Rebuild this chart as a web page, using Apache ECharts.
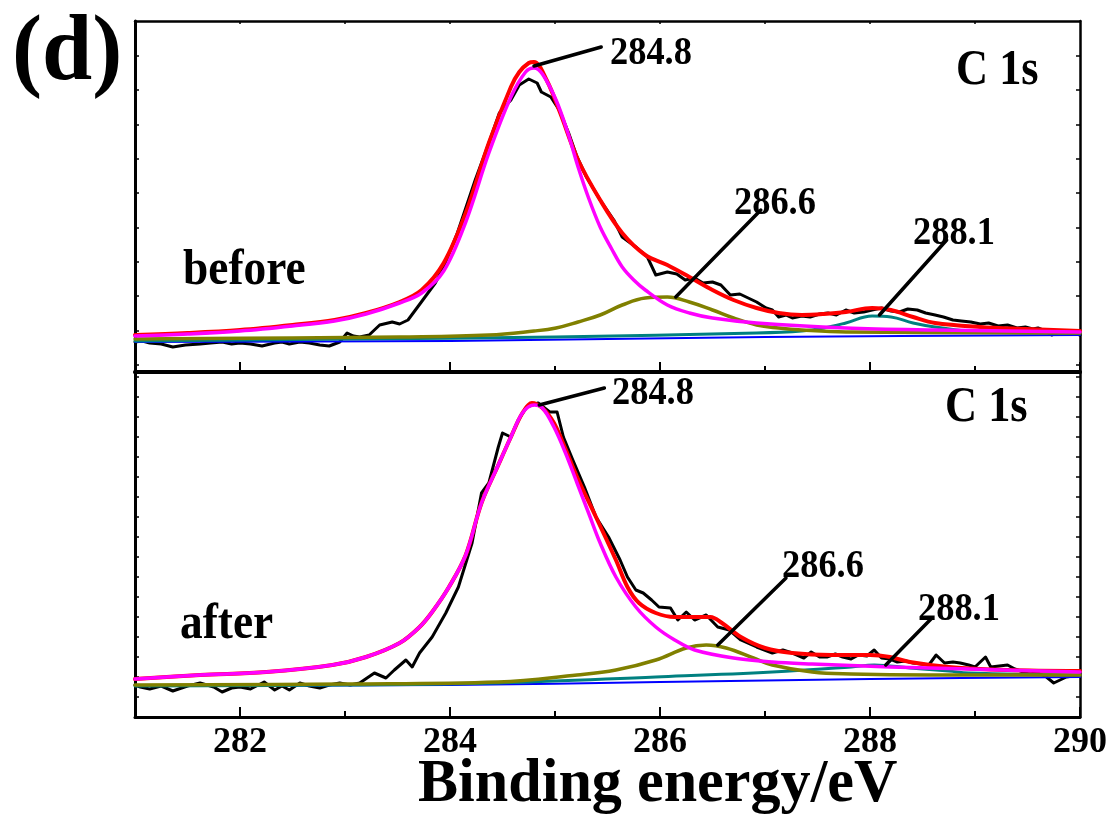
<!DOCTYPE html>
<html>
<head>
<meta charset="utf-8">
<title>C 1s XPS spectra</title>
<script src="https://cdn.jsdelivr.net/npm/echarts@6/dist/echarts.min.js"></script>
<style>
  html, body { margin: 0; padding: 0; background: #fff; }
  #chart { width: 1112px; height: 826px; }
</style>
</head>
<body>
<div id="chart"></div>
<script>
// ---- axis ticks ----
const xMajorTicks = [282, 284, 286, 288, 290];
const xMinorTicks = [283, 285, 287, 289];
const xAllTicks = [282, 283, 284, 285, 286, 287, 288, 289];
const yTicksBefore = [7, 41, 76, 110, 144, 179, 213, 247, 282, 316];
const yTicksAfter = [20, 40, 60, 80, 100, 120, 140, 160, 180, 200, 220, 240, 260, 280, 300, 320, 340];

// ---- "before" spectrum: [binding energy (eV), intensity (a.u.)] ----
const beforeRaw = [
  [281.00, 30], [281.07, 31], [281.14, 29], [281.25, 28], [281.36, 25], [281.48, 27], [281.62, 28],
  [281.72, 29], [281.83, 30], [281.92, 28], [282.00, 29], [282.10, 28], [282.21, 26], [282.33, 29],
  [282.40, 30], [282.47, 28], [282.57, 30], [282.66, 29], [282.76, 27], [282.85, 26], [282.95, 30],
  [283.02, 39], [283.08, 36], [283.14, 35], [283.23, 37], [283.33, 47], [283.45, 50], [283.52, 48],
  [283.60, 52], [283.72, 69], [283.86, 89], [283.94, 105], [284.07, 139], [284.24, 192], [284.37, 229],
  [284.47, 259], [284.58, 272], [284.66, 287], [284.75, 293], [284.83, 289], [284.87, 280], [284.96, 275],
  [285.04, 262], [285.13, 239], [285.21, 215], [285.30, 195], [285.43, 172], [285.56, 152], [285.64, 135],
  [285.77, 125], [285.88, 115], [285.96, 97], [286.07, 100], [286.16, 98], [286.24, 92], [286.33, 94],
  [286.41, 89], [286.50, 90], [286.58, 87], [286.67, 77], [286.76, 78], [286.84, 74], [286.92, 70],
  [287.01, 64], [287.07, 62], [287.13, 55], [287.20, 57], [287.26, 54], [287.35, 56], [287.43, 55],
  [287.52, 58], [287.60, 59], [287.68, 57], [287.77, 62], [287.85, 59], [287.94, 60], [288.02, 62],
  [288.11, 64], [288.20, 61], [288.28, 60], [288.36, 63], [288.45, 62], [288.53, 59], [288.62, 57],
  [288.70, 55], [288.79, 52], [288.87, 51], [288.96, 50], [289.05, 48], [289.13, 49], [289.22, 46],
  [289.31, 47], [289.40, 44], [289.48, 45], [289.55, 43], [289.60, 44], [289.67, 41], [289.73, 37],
  [289.80, 40], [289.90, 40], [290.00, 37]
];
const beforeFit = [
  [281.00, 37], [281.50, 39], [282.00, 42], [282.50, 47], [282.90, 52], [283.20, 59], [283.52, 70],
  [283.73, 82], [283.94, 109], [284.15, 159], [284.37, 229], [284.58, 285], [284.66, 300], [284.75, 309],
  [284.80, 310], [284.92, 292], [285.05, 259], [285.22, 212], [285.43, 172], [285.64, 139], [285.86, 117],
  [286.07, 107], [286.28, 95], [286.50, 82], [286.70, 72], [286.92, 64], [287.13, 59], [287.35, 57],
  [287.56, 58], [287.77, 60], [288.02, 64], [288.20, 62], [288.41, 55], [288.62, 49], [289.05, 45],
  [289.48, 43], [290.00, 41]
];
const beforeCC = [
  [281.00, 36], [281.50, 38], [282.00, 41], [282.50, 46], [282.90, 51], [283.20, 58], [283.52, 69],
  [283.73, 79], [283.94, 101], [284.15, 150], [284.37, 219], [284.58, 275], [284.72, 300], [284.80, 304],
  [284.88, 298], [285.01, 272], [285.12, 240], [285.22, 205], [285.32, 174], [285.43, 145], [285.54, 123],
  [285.64, 105], [285.75, 92], [285.86, 82], [286.07, 67], [286.28, 59], [286.50, 54], [286.92, 49],
  [287.77, 44], [288.62, 42], [290.00, 40]
];
const beforeCO = [
  [281.00, 33], [282.50, 34], [283.52, 35], [284.37, 37], [284.80, 41], [285.01, 44], [285.22, 50],
  [285.43, 57], [285.64, 67], [285.86, 74], [286.07, 75], [286.28, 70], [286.50, 62], [286.70, 54],
  [286.92, 47], [287.13, 44], [287.35, 42], [287.77, 40], [290.00, 39]
];
const beforeOCO = [
  [281.00, 31], [283.00, 33], [285.00, 35], [286.92, 39], [287.35, 41], [287.56, 44], [287.77, 49],
  [288.02, 56], [288.20, 55], [288.41, 49], [288.62, 45], [289.05, 40], [290.00, 39]
];
const beforeBg = [[281.00, 30], [284.00, 31], [285.50, 33], [287.00, 35], [290.00, 37]];

// ---- "after" spectrum ----
const afterRaw = [
  [281.00, 32], [281.05, 30], [281.14, 28], [281.25, 31], [281.36, 26], [281.50, 31], [281.62, 34],
  [281.75, 30], [281.83, 25], [281.92, 29], [282.00, 30], [282.10, 28], [282.23, 35], [282.33, 27],
  [282.40, 31], [282.47, 27], [282.57, 34], [282.66, 31], [282.76, 29], [282.85, 32], [282.95, 34],
  [283.05, 32], [283.14, 34], [283.28, 44], [283.39, 39], [283.47, 47], [283.58, 57], [283.64, 50],
  [283.71, 64], [283.83, 80], [283.96, 104], [284.08, 130], [284.21, 174], [284.30, 224], [284.37, 234],
  [284.46, 270], [284.50, 284], [284.58, 280], [284.65, 297], [284.73, 310], [284.84, 314], [284.95, 305],
  [285.02, 305], [285.08, 280], [285.17, 257], [285.28, 230], [285.39, 200], [285.51, 180], [285.62, 157],
  [285.69, 140], [285.77, 127], [285.84, 124], [285.92, 117], [285.99, 110], [286.10, 109], [286.17, 97],
  [286.25, 105], [286.33, 97], [286.44, 102], [286.55, 90], [286.66, 87], [286.77, 77], [286.92, 70],
  [287.07, 64], [287.17, 67], [287.26, 64], [287.37, 59], [287.44, 65], [287.52, 60], [287.59, 60],
  [287.67, 63], [287.74, 60], [287.82, 58], [287.89, 62], [287.97, 61], [288.04, 67], [288.11, 59],
  [288.19, 58], [288.26, 55], [288.34, 56], [288.41, 54], [288.49, 53], [288.56, 52], [288.63, 62],
  [288.71, 54], [288.79, 55], [288.86, 54], [288.94, 52], [289.00, 50], [289.10, 60], [289.15, 50],
  [289.23, 51], [289.31, 52], [289.38, 48], [289.46, 45], [289.53, 46], [289.60, 44], [289.68, 40],
  [289.75, 34], [289.87, 40], [290.00, 42]
];
const afterFit = [
  [281.00, 38], [281.62, 42], [282.25, 45], [282.88, 52], [283.20, 60], [283.52, 74], [283.71, 90],
  [283.83, 105], [283.99, 130], [284.15, 162], [284.30, 214], [284.46, 252], [284.58, 280], [284.69, 304],
  [284.78, 314], [284.88, 309], [284.99, 294], [285.10, 268], [285.21, 240], [285.39, 200], [285.58, 157],
  [285.69, 130], [285.80, 114], [285.96, 104], [286.14, 100], [286.33, 100], [286.48, 100], [286.59, 94],
  [286.77, 80], [287.00, 69], [287.26, 64], [287.63, 62], [288.00, 62], [288.19, 60], [288.38, 55],
  [288.75, 50], [289.31, 47], [290.00, 46]
];
const afterCC = [
  [281.00, 38], [281.62, 42], [282.25, 45], [282.88, 52], [283.20, 60], [283.52, 74], [283.71, 90],
  [283.83, 105], [283.99, 130], [284.15, 162], [284.30, 214], [284.46, 252], [284.58, 280], [284.69, 304],
  [284.80, 312], [284.88, 309], [284.99, 290], [285.10, 264], [285.21, 234], [285.32, 204], [285.43, 174],
  [285.58, 140], [285.77, 110], [285.96, 90], [286.14, 77], [286.33, 67], [286.70, 59], [287.07, 55],
  [287.45, 53], [288.19, 50], [288.94, 48], [290.00, 45]
];
const afterCO = [
  [281.00, 32], [283.00, 33], [284.46, 35], [285.21, 42], [285.58, 47], [285.96, 57], [286.25, 69],
  [286.44, 72], [286.63, 69], [286.89, 59], [287.07, 52], [287.45, 45], [287.82, 43], [288.56, 42],
  [290.00, 42]
];
const afterOCO = [
  [281.00, 31], [283.00, 32], [284.46, 34], [285.96, 40], [287.07, 45], [287.82, 50], [288.04, 52],
  [288.38, 49], [288.75, 46], [288.94, 44], [290.00, 42]
];
const afterBg = [[281.00, 31], [284.00, 32], [286.00, 35], [288.00, 38], [290.00, 40]];

// ---- peak assignments and their leader lines ----
const peakLabels = ['284.8', '286.6', '288.1'];
const beforeLeaders = [
  [[284.80, 306], [285.44, 325]],
  [[286.15, 75], [286.96, 162]],
  [[288.09, 57], [288.73, 132]]
];
const afterLeaders = [
  [[284.85, 312], [285.47, 329]],
  [[286.55, 72], [287.20, 139]],
  [[288.15, 52], [288.59, 99]]
];

const FONT = 'Liberation Serif';
const chart = echarts.init(document.getElementById('chart'), null, { renderer: 'canvas' });

const gridTop = { left: 135, top: 21, width: 945, height: 351 };
const gridBottom = { left: 135, top: 372, width: 945, height: 345 };

function xAxisBase(grid, extra) {
  return Object.assign({
    type: 'value', gridIndex: grid, min: 281, max: 290,
    splitLine: { show: false },
    axisLabel: { show: false },
    axisLine: { show: false, onZero: false }
  }, extra);
}
function yAxisBase(grid, max, extra) {
  return Object.assign({
    type: 'value', gridIndex: grid, min: 0, max: max,
    splitLine: { show: false },
    axisLabel: { show: false },
    axisLine: { show: false, onZero: false },
    axisTick: { show: false }
  }, extra);
}

const xAxes = [
  // 0: upper panel, lower edge with major ticks
  xAxisBase(0, {
    position: 'bottom',
    axisLine: { show: true, onZero: false, lineStyle: { color: '#000', width: 4 } },
    axisTick: { show: true, inside: true, length: 10, customValues: xMajorTicks, lineStyle: { color: '#000', width: 2 } }
  }),
  // 1: upper panel, top edge
  xAxisBase(0, {
    position: 'top',
    axisLine: { show: true, onZero: false, lineStyle: { color: '#000', width: 2.5 } },
    axisTick: { show: true, inside: true, length: 3, customValues: xAllTicks, lineStyle: { color: '#000', width: 1.5 } }
  }),
  // 2: lower panel, bottom edge with major ticks and labels
  xAxisBase(1, {
    position: 'bottom',
    axisLine: { show: true, onZero: false, lineStyle: { color: '#000', width: 3 } },
    axisTick: { show: true, inside: true, length: 10, customValues: xMajorTicks, lineStyle: { color: '#000', width: 2 } },
    axisLabel: {
      show: true, customValues: xMajorTicks, margin: 8,
      fontFamily: FONT, fontWeight: 'bold', fontSize: 36, color: '#000'
    }
  }),
  // 3: lower panel, top edge
  xAxisBase(1, {
    position: 'top',
    axisLine: { show: true, onZero: false, lineStyle: { color: '#000', width: 3 } },
    axisTick: { show: false }
  }),
  // 4, 5: minor ticks on overlay grids
  xAxisBase(2, {
    position: 'bottom',
    axisTick: { show: true, inside: true, length: 6, customValues: xMinorTicks, lineStyle: { color: '#000', width: 2 } }
  }),
  xAxisBase(3, {
    position: 'bottom',
    axisTick: { show: true, inside: true, length: 6, customValues: xMinorTicks, lineStyle: { color: '#000', width: 2 } }
  })
];

const yAxes = [
  yAxisBase(0, 351, {
    position: 'left',
    axisLine: { show: true, onZero: false, lineStyle: { color: '#000', width: 3 } },
    axisTick: { show: true, inside: true, length: 4, customValues: yTicksBefore, lineStyle: { color: '#000', width: 1.5 } }
  }),
  yAxisBase(0, 351, {
    position: 'right',
    axisLine: { show: true, onZero: false, lineStyle: { color: '#000', width: 2.5 } },
    axisTick: { show: true, inside: true, length: 4, customValues: yTicksBefore, lineStyle: { color: '#000', width: 1.5 } }
  }),
  yAxisBase(1, 345, {
    position: 'left',
    axisLine: { show: true, onZero: false, lineStyle: { color: '#000', width: 3 } },
    axisTick: { show: true, inside: true, length: 4, customValues: yTicksAfter, lineStyle: { color: '#000', width: 1.5 } }
  }),
  yAxisBase(1, 345, {
    position: 'right',
    axisLine: { show: true, onZero: false, lineStyle: { color: '#000', width: 2.5 } },
    axisTick: { show: true, inside: true, length: 4, customValues: yTicksAfter, lineStyle: { color: '#000', width: 1.5 } }
  }),
  yAxisBase(2, 351, { position: 'left' }),
  yAxisBase(3, 345, { position: 'left' })
];

function curve(data, xi, yi, color, width, smooth, z) {
  return {
    type: 'line', xAxisIndex: xi, yAxisIndex: yi, data: data,
    showSymbol: false, symbol: 'none', smooth: smooth, silent: true, animation: false,
    lineStyle: { color: color, width: width, join: 'round', cap: 'round' },
    z: z || 2
  };
}

const series = [
  // before
  curve(beforeRaw, 0, 0, '#000000', 3, false, 2),
  curve(beforeBg, 0, 0, '#0000ff', 2, 0.3, 3),
  curve(beforeOCO, 0, 0, '#008080', 3, 0.4, 3),
  curve(beforeCO, 0, 0, '#808000', 3.5, 0.4, 3),
  curve(beforeFit, 0, 0, '#ff0000', 4, 0.35, 3),
  curve(beforeCC, 0, 0, '#ff00ff', 3.5, 0.35, 3),
  // after
  curve(afterRaw, 2, 2, '#000000', 3, false, 2),
  curve(afterBg, 2, 2, '#0000ff', 2, 0.3, 3),
  curve(afterOCO, 2, 2, '#008080', 3, 0.4, 3),
  curve(afterCO, 2, 2, '#808000', 3.5, 0.4, 3),
  curve(afterFit, 2, 2, '#ff0000', 4, 0.35, 3),
  curve(afterCC, 2, 2, '#ff00ff', 3.5, 0.35, 3)
];
beforeLeaders.forEach(function (seg) { series.push(curve(seg, 0, 0, '#000000', 3.5, false, 5)); });
afterLeaders.forEach(function (seg) { series.push(curve(seg, 2, 2, '#000000', 3.5, false, 5)); });

// bold serif annotation, narrowed horizontally by sx
function label(text, x, y, size, sx) {
  return {
    type: 'text', x: x, y: y, z: 10, silent: true,
    scaleX: sx || 1,
    style: {
      text: text, fill: '#000', fontFamily: FONT, fontWeight: 'bold', fontSize: size,
      align: 'left', verticalAlign: 'middle'
    }
  };
}

const graphics = [
  label('(d)', 12, 55, 93, 0.97),
  label('before', 183, 271, 51, 0.89),
  label('after', 180, 625, 51, 0.89),
  label('C 1s', 956, 71, 51, 0.87),
  label('C 1s', 945, 408, 51, 0.87),
  label(peakLabels[0], 610, 53.5, 40, 0.91),
  label(peakLabels[1], 734, 203.5, 40, 0.91),
  label(peakLabels[2], 913, 233.5, 40, 0.91),
  label(peakLabels[0], 612, 393.5, 40, 0.91),
  label(peakLabels[1], 782, 566.5, 40, 0.91),
  label(peakLabels[2], 918, 609.5, 40, 0.91),
  label('Binding energy/eV', 418, 785, 62, 0.97)
];

chart.setOption({
  animation: false,
  backgroundColor: '#ffffff',
  grid: [
    Object.assign({}, gridTop),
    Object.assign({}, gridBottom),
    Object.assign({}, gridTop),
    Object.assign({}, gridBottom)
  ],
  xAxis: xAxes,
  yAxis: yAxes,
  series: series,
  graphic: graphics
});
</script>
</body>
</html>
